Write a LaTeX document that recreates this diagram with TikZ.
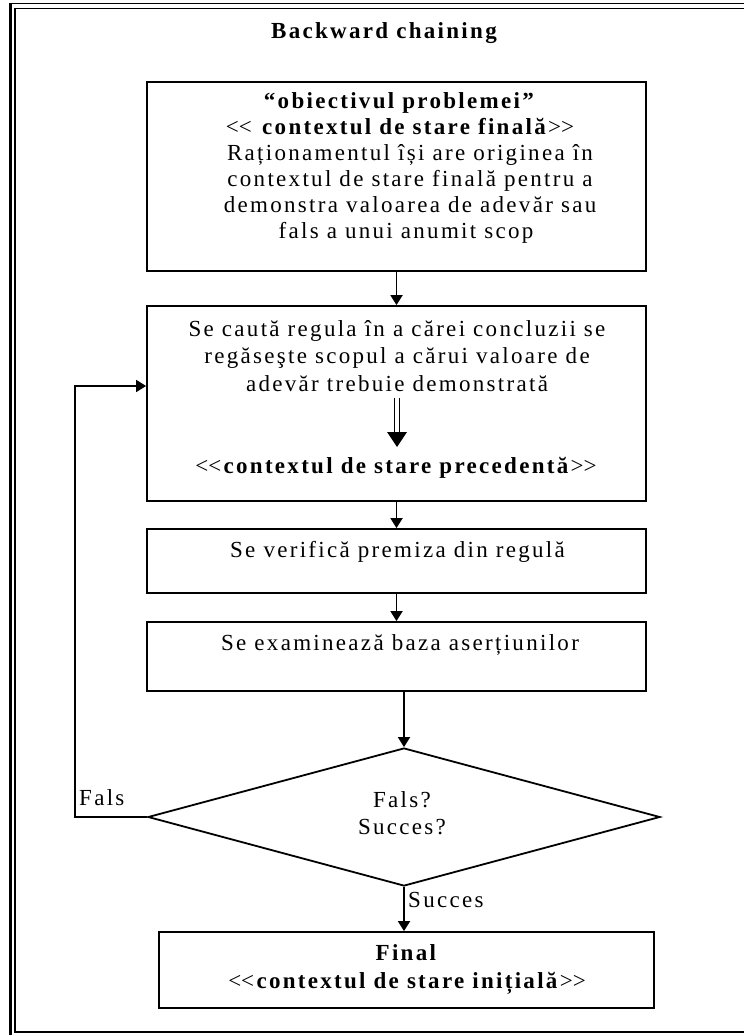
\documentclass[tikz,border=0pt]{standalone}
\usepackage{fontspec}
\setmainfont{Liberation Serif}[LetterSpace=10]
\usetikzlibrary{arrows.meta,shapes.geometric}

\begin{document}
\begin{tikzpicture}[x=1pt,y=-1pt,
  box/.style={draw, rectangle, line width=1.8pt, inner sep=0pt},
  choice/.style={draw, diamond, line width=1.8pt, inner sep=0pt},
  txt/.style={align=center, inner sep=0pt, font=\fontsize{23}{26}\selectfont},
  flow/.style={line width=1.8pt, -{Triangle[length=10pt,width=12pt]}}
]
\useasboundingbox (0,0) rectangle (744,1035);

% double frame around the page
\draw[line width=1.5pt] (744,3.5) -- (10.5,3.5);
\draw[line width=3pt] (10.5,2.75) -- (10.5,1035);
\draw[line width=1.3pt] (744,8.5) -- (15,8.5) -- (15,1032) -- (744,1032);

\node[txt, font=\fontsize{23}{26}\selectfont\bfseries] (title) at (384,33) {Backward chaining};

% process boxes
\node[box, minimum width=499pt, minimum height=189pt] (b1) at (396.5,176.5) {};
\node[box, minimum width=499pt, minimum height=195pt] (b2) at (396.5,403.5) {};
\node[box, minimum width=499pt, minimum height=64pt]  (b3) at (396.5,561) {};
\node[box, minimum width=499pt, minimum height=69pt]  (b4) at (396.5,656.5) {};
\node[choice, minimum width=512pt, minimum height=138pt] (dia) at (404,817) {};
\node[box, minimum width=495pt, minimum height=76pt] (fin) at (406.5,970) {};

% texts of the boxes
\node[txt] (t1) at (400,168) {\textbf{“obiectivul problemei”}\\
  <\kern0pt< \textbf{contextul de stare finală}>\kern0pt>\\
  \hspace*{20pt}Raționamentul își are originea în\\
  \hspace*{20pt}contextul de stare finală pentru a\\
  \hspace*{20pt}demonstra valoarea de adevăr sau\\
  \hspace*{12pt}fals a unui anumit scop};
\node[txt, font=\fontsize{23}{27.5}\selectfont] (t2) at (397,356) {Se caută regula în a cărei concluzii se\\
  regăseşte scopul a cărui valoare de\\
  adevăr trebuie demonstrată};
\node[txt] (t2b) at (396,468) {<\kern0pt<\textbf{contextul de stare precedentă}>\kern0pt>};
\node[txt] (t3) at (397.5,552) {Se verifică premiza din regulă};
\node[txt] (t4) at (400,645) {Se examinează baza aserțiunilor};
\node[txt, font=\fontsize{23}{27}\selectfont] (td) at (402,813.5) {Fals?\\Succes?};
\node[txt, font=\fontsize{23}{28}\selectfont] (tf) at (407,969) {\textbf{Final}\\
  <\kern0pt<\textbf{contextul de stare inițială}>\kern0pt>};

% thick double arrow inside the second box
\coordinate (dtop) at (397,398);
\coordinate (dbot) at (397,447);
\draw[line width=1.6pt] (dtop) ++(-2.6,0) -- ++(0,35)
                        (dtop) ++(2.6,0) -- ++(0,35);
\fill (dbot) ++(-10,-15) -- ++(20,0) -- (dbot) -- cycle;

% connectors
\draw[flow] (b1.south) -- (b2.north);
\draw[flow] (b2.south) -- (b3.north);
\draw[flow] (b3.south) -- (b4.north);
\draw[flow] (b4.south -| dia.north) -- (dia.north);
\draw[flow] (dia.south) -- (dia.south |- fin.north);
\coordinate (loop) at (75,386);
\draw[flow] (dia.west) -| (loop) -- (loop -| b2.west);

% branch labels
\node[txt, anchor=west] (lf) at (79,798) {Fals};
\node[txt, anchor=west] (ls) at (408,900) {Succes};
\end{tikzpicture}
\end{document}
